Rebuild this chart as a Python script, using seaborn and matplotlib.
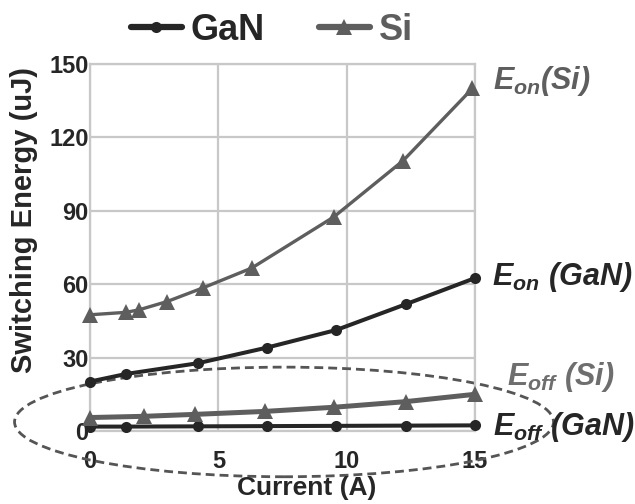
import numpy as np
import pandas as pd
import matplotlib
matplotlib.use("Agg")
import matplotlib.pyplot as plt
from matplotlib.patches import Ellipse
from matplotlib.lines import Line2D
import seaborn as sns

# values
gan_x = [0, 1.4, 4.2, 6.9, 9.6, 12.3, 15.0]
gan_eon = [20.2, 23.3, 27.7, 34.1, 41.3, 51.8, 62.5]
gan_eoff = [1.8, 1.8, 1.9, 2.0, 2.1, 2.2, 2.3]

si_on_x = [0, 1.4, 1.9, 3.0, 4.4, 6.3, 9.5, 12.2, 14.9]
si_eon = [47.5, 48.5, 49.5, 52.9, 58.5, 66.6, 87.5, 110.5, 140.0]

si_off_x = [0, 2.1, 4.1, 6.8, 9.5, 12.3, 15.0]
si_eoff = [5.5, 6.0, 6.8, 8.0, 9.7, 12.0, 15.0]

x_ticks = [0, 5, 10, 15]
y_ticks = [0, 30, 60, 90, 120, 150]

gan_col = "#262626"
si_col = "#5e5e5e"

sns.set_theme(style="white")
plt.rcParams["font.family"] = ["Liberation Sans", "DejaVu Sans"]
plt.rcParams["font.weight"] = "bold"
# curve labels are all bold italic, brackets included
plt.rcParams["mathtext.fontset"] = "custom"
plt.rcParams["mathtext.it"] = "Liberation Sans:italic:bold"
plt.rcParams["mathtext.rm"] = "Liberation Sans:italic:bold"
plt.rcParams["mathtext.bf"] = "Liberation Sans:italic:bold"

fig = plt.figure(figsize=(6.35, 5.04), dpi=100)
ax = fig.add_axes([90 / 635, 73 / 504, 385 / 635, 367 / 504])

# dashed ellipse round the turn-off curves
ax.add_patch(Ellipse((7.56, 3.7), 21.0, 44.8, fill=False, ls=(0, (3.2, 1.8)),
                     lw=2, ec="#555555", clip_on=False, zorder=1))

series = [
    (gan_x, gan_eon, gan_col, "o", 8, 2.9),
    (gan_x, gan_eoff, gan_col, "o", 8, 2.9),
    (si_on_x, si_eon, si_col, "^", 11, 2.4),
    (si_off_x, si_eoff, si_col, "^", 11, 3.6),
]
for xs, ys, col, mk, ms, lw in series:
    df = pd.DataFrame({"x": xs, "y": ys})
    sns.lineplot(data=df, x="x", y="y", ax=ax, color=col, marker=mk,
                 markersize=ms, markeredgewidth=0, linewidth=lw,
                 clip_on=False, zorder=3)

ax.set_xlim(0, 15)
ax.set_ylim(0, 150)
ax.set_xticks(x_ticks)
ax.set_yticks(y_ticks)
ax.grid(True, color="#c8c8c8", lw=1.6)
for sp in ax.spines.values():
    sp.set_color("#c8c8c8")
    sp.set_linewidth(1.6)
ax.tick_params(axis="both", length=0, labelsize=17)
ax.tick_params(axis="x", pad=14)
ax.tick_params(axis="y", pad=1)
for lab in ax.get_xticklabels() + ax.get_yticklabels():
    lab.set_fontweight("bold")
ax.set_xlabel("")
ax.set_ylabel("")

fig.text(307 / 635, 1 - 488 / 504, "Current (A)", ha="center", va="center",
         fontsize=19, fontweight="bold")
fig.text(24 / 635, 1 - 220 / 504, "Switching Energy (uJ)", ha="center",
         va="center", rotation=90, fontsize=21, fontweight="bold")

# curve labels
labels = [
    (493, 81, r"$E_{on}(Si)$", si_col),
    (492, 277, r"$E_{on}\ (GaN)$", gan_col),
    (507, 377, r"$E_{off}\ (Si)$", "#6e6e6e"),
    (493, 427, r"$E_{off}\ (GaN)$", gan_col),
]
for px, py, txt, col in labels:
    fig.text(px / 635, 1 - py / 504, txt, ha="left", va="center",
             fontsize=22, color=col)

handles = [
    Line2D([], [], color=gan_col, marker="o", markersize=8, lw=4.5,
           markeredgewidth=0),
    Line2D([], [], color=si_col, marker="^", markersize=11, lw=4.5,
           markeredgewidth=0),
]
leg = fig.legend(handles, ["GaN", "Si"], loc="center",
                 bbox_to_anchor=(272 / 635, 1 - 30 / 504), ncol=2,
                 frameon=False, handlelength=1.4,
                 handletextpad=0.25, columnspacing=1.5,
                 prop={"weight": "bold", "size": 26})
for t, c in zip(leg.get_texts(), [gan_col, si_col]):
    t.set_color(c)

fig.savefig("out.png", dpi=100)
